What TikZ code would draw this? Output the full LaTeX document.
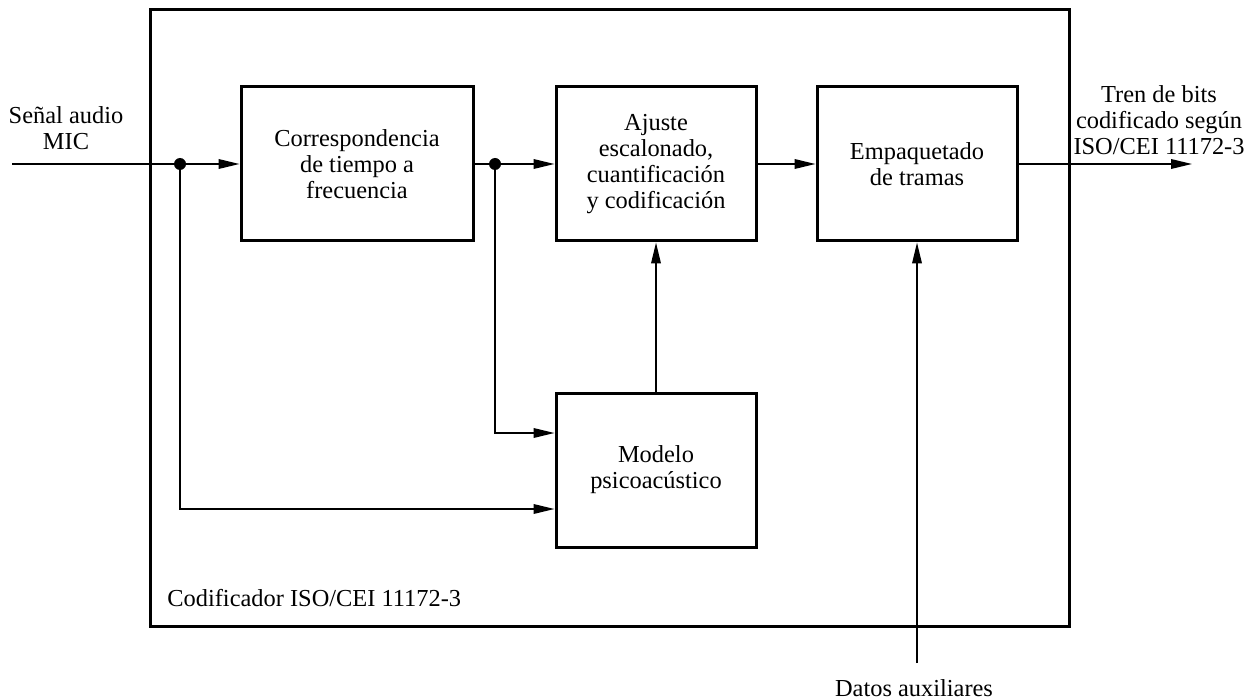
\documentclass[tikz,border=0pt]{standalone}
\usepackage{fontspec}
\setmainfont{Liberation Serif}
\usetikzlibrary{arrows.meta}
\begin{document}
\begin{tikzpicture}[x=0.5pt,y=-0.5pt,
  txt/.style={font=\fontsize{12.2}{13}\selectfont},
  blk/.style={draw, line width=1.5pt, inner sep=0pt, align=center, minimum height=77pt, txt},
  lbl/.style={align=center, inner sep=0pt, txt},
  wire/.style={line width=0.8pt},
  conn/.style={wire, -{Triangle[length=10.5pt,width=4.8pt]}},
  jdot/.style={circle, fill, inner sep=0pt, minimum size=6pt}
]
\useasboundingbox (0,0) rectangle (1252,700);
% enclosing encoder
\node[draw, line width=1.5pt, inner sep=0pt, minimum width=459.5pt, minimum height=308pt] (enc) at (609.5,318) {};
\node[lbl, anchor=base west] (enclbl) at (167,606) {Codificador ISO/CEI 11172-3};

% blocks
\node[blk, minimum width=116pt] (tf) at (357,164) {Correspondencia\\de tiempo a\\frecuencia};
\node[blk, minimum width=100pt] (aj) at (656,164) {Ajuste\\escalonado,\\cuantificación\\y codificación};
\node[blk, minimum width=100pt] (emp) at (917,164) {Empaquetado\\de tramas};
\node[blk, minimum width=100pt] (psy) at (656,470) {Modelo\\psicoacústico};

% outside labels
\node[lbl] (in) at (66,128) {Señal audio\\MIC};
\node[lbl] (out) at (1159,120) {Tren de bits\\codificado según\\ISO/CEI 11172-3};
\node[lbl] (aux) at (914,688) {Datos auxiliares};

% junctions and free ends
\coordinate (inS) at (12,164);
\node[jdot] (d1) at (180,164) {};
\node[jdot] (d2) at (495,164) {};
\coordinate (outE) at (1192,164);
\coordinate (auxS) at (917,663);

% connectors
\draw[wire] (inS) -- (d1);
\draw[conn] (d1) -- (tf.west);
\draw[wire] (tf.east) -- (d2);
\draw[conn] (d2) -- (aj.west);
\draw[conn] (d2) |- ([yshift=18.5pt]psy.west);
\draw[conn] (d1) |- ([yshift=-19.5pt]psy.west);
\draw[conn] (psy) -- (aj);
\draw[conn] (aj) -- (emp);
\draw[conn] (emp.east) -- (outE);
\draw[conn] (auxS) -- (emp.south);
\end{tikzpicture}
\end{document}
